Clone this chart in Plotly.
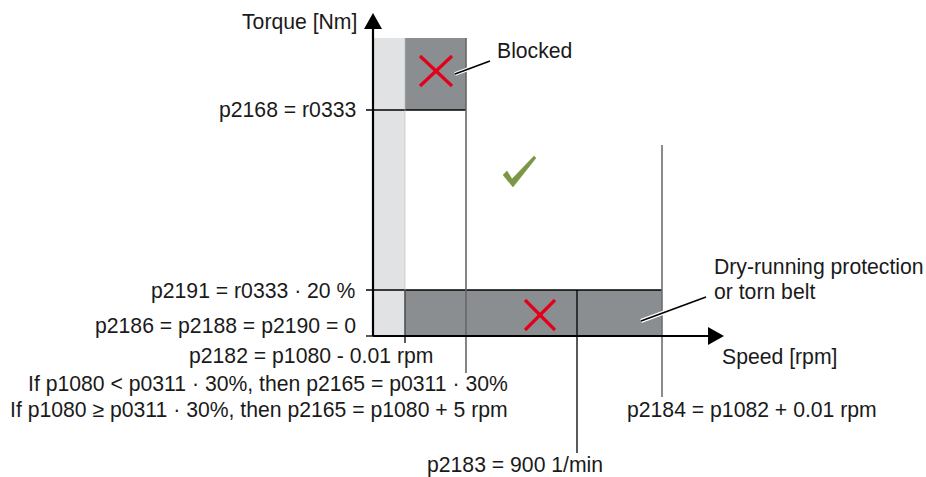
import plotly.graph_objects as go

# Schematic positions (diagram units, x grows right, y grows down)
speed_names = ["p2182", "p2165", "p2183", "p2184"]
speed_pos = [405, 466, 577, 662]
torque_names = ["zero", "p2191", "p2168", "top"]
torque_pos = [336, 290, 110, 38]
axis_origin = [373, 336]

torque_labels = ["p2168 = r0333", "p2191 = r0333 · 20 %", "p2186 = p2188 = p2190 = 0"]
torque_label_y = [110, 291, 326]

speed_labels = [
    "p2182 = p1080 - 0.01 rpm",
    "If p1080 < p0311 · 30%, then p2165 = p0311 · 30%",
    "If p1080 ≥ p0311 · 30%, then p2165 = p1080 + 5 rpm",
    "p2184 = p1082 + 0.01 rpm",
    "p2183 = 900 1/min",
]
speed_label_x = [187, 510, 510, 625, 425]
speed_label_anchor = ["left", "right", "right", "left", "left"]
speed_label_y = [356, 384, 410, 410, 465]

FONT = "Liberation Sans, Arial, sans-serif"
FS = 21.2
DARK = "#8a8e91"
LIGHT = "#e1e2e4"
RED = "#e2001a"
GREEN = "#7b9645"

x0, y0 = axis_origin
s1, s2, s3, s4 = speed_pos
t0, t1, t2, t3 = torque_pos

fig = go.Figure()
fig.add_trace(go.Scatter(x=[0, 926], y=[0, 477], mode="markers",
                         marker=dict(opacity=0), hoverinfo="skip", showlegend=False))

shapes = []
def rect(xa, ya, xb, yb, color):
    shapes.append(dict(type="rect", xref="x", yref="y", x0=xa, y0=ya, x1=xb, y1=yb,
                       fillcolor=color, line=dict(width=0), layer="below"))
def line(xa, ya, xb, yb, color="black", w=1.5):
    shapes.append(dict(type="line", xref="x", yref="y", x0=xa, y0=ya, x1=xb, y1=yb,
                       line=dict(color=color, width=w)))
def path(d, color, fill=None, w=0):
    shapes.append(dict(type="path", xref="x", yref="y", path=d,
                       fillcolor=fill if fill else "rgba(0,0,0,0)",
                       line=dict(color=color, width=w)))

# regions
rect(x0, t3, s1, t0, LIGHT)
rect(s1, t3, s2, t2, DARK)
rect(s1, t1, s4, t0, DARK)

# threshold lines
line(x0 - 7, t2, s2, t2, "black", 1.3)
line(x0 - 7, t1, s4, t1, "black", 1.3)
line(x0 - 7, t0, x0, t0, "black", 1.3)
line(s1, t1, s1, t0 + 7, "black", 1.3)
line(s2, t3, s2, 373, "#666666", 1.6)
line(s3, t1, s3, 453, "black", 1.3)
line(s4, 145, s4, 397, "#6e6e6e", 1.6)
line(s1, t3, s1, t0, "#b9bbbd", 0.6)

# axes
line(x0, t0, x0, 26, "black", 2.2)
line(x0, t0, 710, t0, "black", 2.2)
path(f"M {x0-9} 29 L {x0} 13 L {x0+9} 29 Z", "black", "black", 0)
path(f"M 708 {t0-9} L 724 {t0} L 708 {t0+9} Z", "black", "black", 0)

# red crosses
for cx, cy, hx, hy in [(436, 71, 16, 15), (540, 315, 15, 15)]:
    line(cx - hx, cy - hy, cx + hx, cy + hy, RED, 3.2)
    line(cx - hx, cy + hy, cx + hx, cy - hy, RED, 3.2)

# check mark
path("M 503 175 L 507 171 L 512 179 L 534 156 L 536 158 L 513 187 Z", GREEN, GREEN, 0.5)

# leader lines (white outline + black core)
for (xa, ya, xb, yb) in [(455, 74, 490, 61), (641, 321, 706, 297)]:
    line(xa, ya, xb, yb, "white", 4)
    line(xa, ya, xb, yb, "black", 1.6)

annotations = []
def text(x, y, s, anchor="left"):
    annotations.append(dict(x=x, y=y, xref="x", yref="y", text=s, showarrow=False,
                            xanchor=anchor, yanchor="middle",
                            font=dict(family=FONT, size=FS, color="#1a1a1a")))

text(359, 22, "Torque [Nm]", "right")
text(495, 50, "Blocked")
for s, y in zip(torque_labels, torque_label_y):
    text(358, y, s, "right")
for s, x, y, a in zip(speed_labels, speed_label_x, speed_label_y, speed_label_anchor):
    text(x, y, s, a)
text(720, 357, "Speed [rpm]")
text(712, 267, "Dry-running protection")
text(712, 291, "or torn belt")

fig.update_layout(
    width=926, height=477, margin=dict(l=0, r=0, t=0, b=0),
    paper_bgcolor="white", plot_bgcolor="white",
    xaxis=dict(range=[0, 926], visible=False, fixedrange=True),
    yaxis=dict(range=[477, 0], visible=False, fixedrange=True),
    shapes=shapes, annotations=annotations, showlegend=False,
)
fig.write_html("out.html", config={"displayModeBar": False},
               post_script="document.body.style.margin='0';document.body.style.overflow='hidden';")
